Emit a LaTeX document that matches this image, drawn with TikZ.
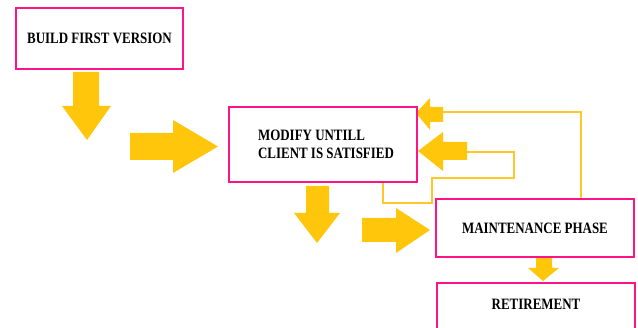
\documentclass[tikz,border=0pt]{standalone}
\usepackage{fontspec}
\setmainfont{Liberation Serif}[FakeStretch=0.82]
\definecolor{pk}{RGB}{255,20,135}
\definecolor{yl}{RGB}{255,198,12}
\definecolor{yl2}{RGB}{255,200,40}
\begin{document}
\begin{tikzpicture}[x=1pt,y=-1pt,
  box/.style={draw=pk,line width=2pt,fill=white,inner sep=0pt,text=black,
    font=\fontsize{15.8}{18}\selectfont\bfseries},
  blk/.style={fill=yl},
  wire/.style={draw=yl2,line width=1.5pt}]
\useasboundingbox (0,0) rectangle (638,328);
\clip (0,0) rectangle (638,328);
% block arrows
\fill[blk] (73,72) -- (99,72) -- (99,106) -- (111,106) -- (87,140) -- (62,106) -- (73,106) -- cycle;
\fill[blk] (130,133) -- (173,133) -- (173,120) -- (218,146.5) -- (173,173) -- (173,160) -- (130,160) -- cycle;
\fill[blk] (306,186) -- (329,186) -- (329,213) -- (340,213) -- (317,243) -- (294,213) -- (306,213) -- cycle;
\fill[blk] (362,218) -- (396,218) -- (396,208) -- (430,230) -- (396,253) -- (396,242) -- (362,242) -- cycle;
\fill[blk] (536,257) -- (552,257) -- (552,268) -- (559,268) -- (543,281) -- (528,268) -- (536,268) -- cycle;
\fill[blk] (443,107) -- (430,107) -- (430,98) -- (416,113) -- (430,130) -- (430,122) -- (443,122) -- cycle;
\fill[blk] (467,142) -- (443,142) -- (443,132) -- (418,151) -- (443,171) -- (443,160) -- (467,160) -- cycle;
% boxes
\node[box,minimum width=167,minimum height=61] (build) at (99.5,38.5) {BUILD FIRST VERSION};
\node[box,minimum width=188,minimum height=75,align=left] (modify) at (323,144.5) {\hspace*{6pt}MODIFY UNTILL\\\hspace*{6pt}CLIENT IS SATISFIED};
\node[box,minimum width=198,minimum height=58] (maint) at (535,228) {MAINTENANCE PHASE};
\node[box,minimum width=198,text height=27pt,text depth=33pt,anchor=north] (ret) at (536,282) {RETIREMENT};
% wires
\coordinate (tA) at (443,112);
\coordinate (tB) at (467,152);
\coordinate (c1) at (581,112);
\coordinate (c2) at (383,203);
\draw[wire] (tA) -- (c1) -- (c1 |- maint.north);
\draw[wire] (c2 |- modify.south) -- (c2) -- (432,203) -- (432,178) -- (514,178) -- (514,152) -- (tB);
\end{tikzpicture}
\end{document}
